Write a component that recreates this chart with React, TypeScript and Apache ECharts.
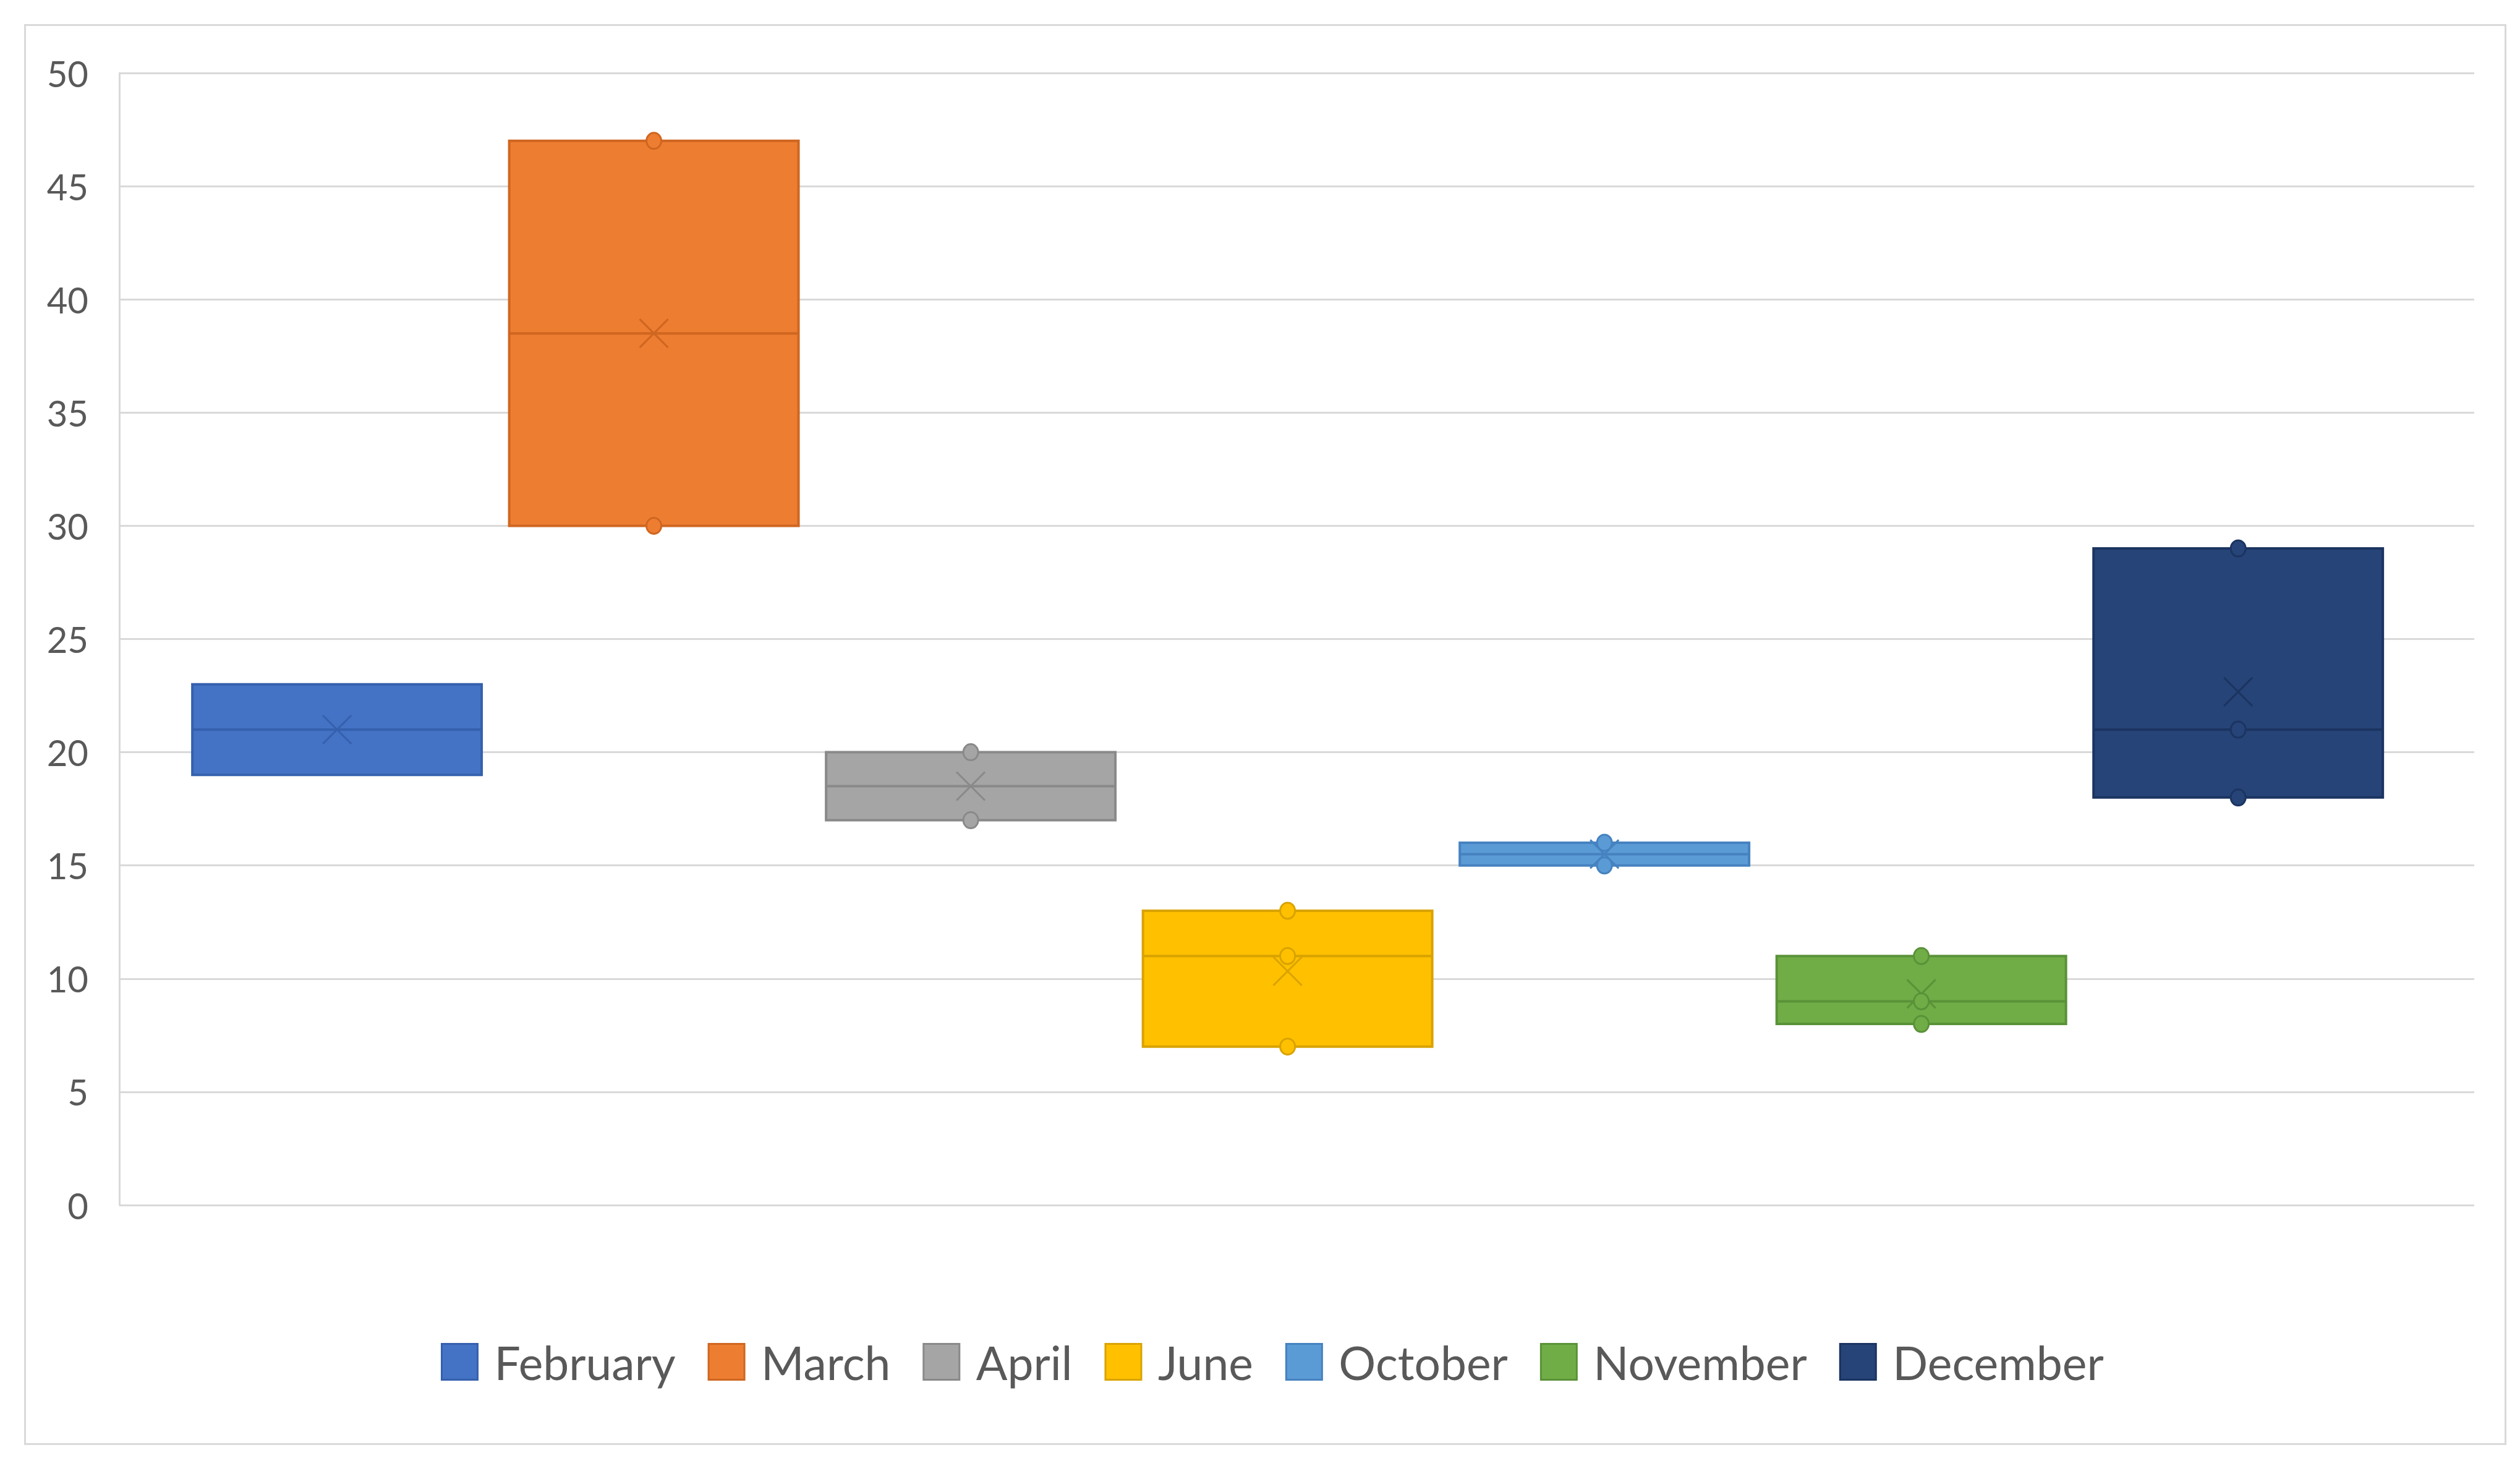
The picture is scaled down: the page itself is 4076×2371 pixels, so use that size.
import React, { useEffect, useRef } from "react";
import * as echarts from "echarts";

// ---- data ----
const seriesNames = ["February", "March", "April", "June", "October", "November", "December"];
const fillColors = ["#4472C4", "#ED7D31", "#A5A5A5", "#FFC000", "#5B9BD5", "#70AD47", "#264478"];
const edgeColors = ["#3560AE", "#CF6620", "#898989", "#D9A300", "#4682C0", "#5A9238", "#1B3461"];
const minValues = [19, 30, 17, 7, 15, 8, 18];
const q1Values = [19, 30, 17, 7, 15, 8, 18];
const medianValues = [21, 38.5, 18.5, 11, 15.5, 9, 21];
const q3Values = [23, 47, 20, 13, 16, 11, 29];
const maxValues = [23, 47, 20, 13, 16, 11, 29];
const meanValues = [21, 38.5, 18.5, 10.33, 15.5, 9.33, 22.67];
const pointValues: number[][] = [[], [47, 30], [20, 17], [13, 11, 7], [16, 15], [11, 9, 8], [29, 21, 18]];
const yMin = 0;
const yMax = 50;
const yInterval = 5;

const BOX_WIDTH = 0.913;
const FONT = "Lato, 'Open Sans', sans-serif";

export default function App() {
  const ref = useRef<HTMLDivElement>(null);

  useEffect(() => {
    document.body.style.margin = "0";
    const chart = echarts.init(ref.current!, null, { renderer: "svg" });

    const renderItem = (params: any, api: any) => {
      const si = params.seriesIndex;
      const x = api.value(0);
      const lo = api.value(1);
      const q1 = api.value(2);
      const med = api.value(3);
      const q3 = api.value(4);
      const hi = api.value(5);
      const mean = api.value(6);
      const halfW = api.size([BOX_WIDTH, 0])[0] / 2;
      const [cx, yq3] = api.coord([x, q3]);
      const yq1 = api.coord([x, q1])[1];
      const ymed = api.coord([x, med])[1];
      const ymean = api.coord([x, mean])[1];
      const ylo = api.coord([x, lo])[1];
      const yhi = api.coord([x, hi])[1];
      const fill = fillColors[si];
      const edge = edgeColors[si];
      const children: any[] = [];
      children.push({
        type: "line",
        shape: { x1: cx, y1: yhi, x2: cx, y2: yq3 },
        style: { stroke: edge, lineWidth: 3 },
      });
      children.push({
        type: "line",
        shape: { x1: cx, y1: yq1, x2: cx, y2: ylo },
        style: { stroke: edge, lineWidth: 3 },
      });
      children.push({
        type: "rect",
        shape: { x: cx - halfW, y: yq3, width: halfW * 2, height: yq1 - yq3 },
        style: { fill, stroke: edge, lineWidth: 4 },
      });
      children.push({
        type: "line",
        shape: { x1: cx - halfW, y1: ymed, x2: cx + halfW, y2: ymed },
        style: { stroke: edge, lineWidth: 4 },
      });
      const m = 23;
      children.push({
        type: "line",
        shape: { x1: cx - m, y1: ymean - m, x2: cx + m, y2: ymean + m },
        style: { stroke: edge, lineWidth: 3 },
      });
      children.push({
        type: "line",
        shape: { x1: cx - m, y1: ymean + m, x2: cx + m, y2: ymean - m },
        style: { stroke: edge, lineWidth: 3 },
      });
      pointValues[si].forEach((v) => {
        const py = api.coord([x, v])[1];
        children.push({
          type: "ellipse",
          shape: { cx, cy: py, rx: 12, ry: 13 },
          style: { fill, stroke: edge, lineWidth: 3 },
        });
      });
      return { type: "group", children };
    };

    const series = seriesNames.map((name, i) => ({
      name,
      type: "custom",
      renderItem,
      itemStyle: { color: fillColors[i], borderColor: edgeColors[i], borderWidth: 3 },
      data: [[i, minValues[i], q1Values[i], medianValues[i], q3Values[i], maxValues[i], meanValues[i]]],
      encode: { x: 0, y: [1, 2, 3, 4, 5] },
      clip: false,
    }));

    chart.setOption({
      animation: false,
      backgroundColor: "#FFFFFF",
      textStyle: { fontFamily: FONT },
      grid: { left: 193, top: 118, width: 3809, height: 1831, containLabel: false },
      xAxis: {
        type: "value",
        min: -0.687,
        max: 6.745,
        show: false,
        splitLine: { show: false },
      },
      yAxis: {
        type: "value",
        min: yMin,
        max: yMax,
        interval: yInterval,
        axisLine: { show: true, onZero: false, lineStyle: { color: "#D9D9D9", width: 3 } },
        axisTick: { show: false },
        splitLine: { show: true, lineStyle: { color: "#D9D9D9", width: 3 } },
        axisLabel: { color: "#595959", fontSize: 58, margin: 50, fontFamily: FONT },
      },
      legend: {
        left: 708,
        top: 2160,
        icon: "rect",
        itemWidth: 58,
        itemHeight: 58,
        itemGap: 52,
        textStyle: { color: "#595959", fontSize: 75, fontFamily: FONT, padding: [0, 0, 0, 22] },
        data: seriesNames.map((n, i) => ({
          name: n,
          itemStyle: { color: fillColors[i], borderColor: edgeColors[i], borderWidth: 3 },
        })),
      },
      graphic: [
        {
          type: "rect",
          left: 38,
          top: 38,
          shape: { width: 4012, height: 2295 },
          style: { fill: "none", stroke: "#D9D9D9", lineWidth: 3 },
          silent: true,
        },
      ],
      series,
    });

    return () => chart.dispose();
  }, []);

  return <div ref={ref} style={{ width: 4076, height: 2371 }} />;
}
